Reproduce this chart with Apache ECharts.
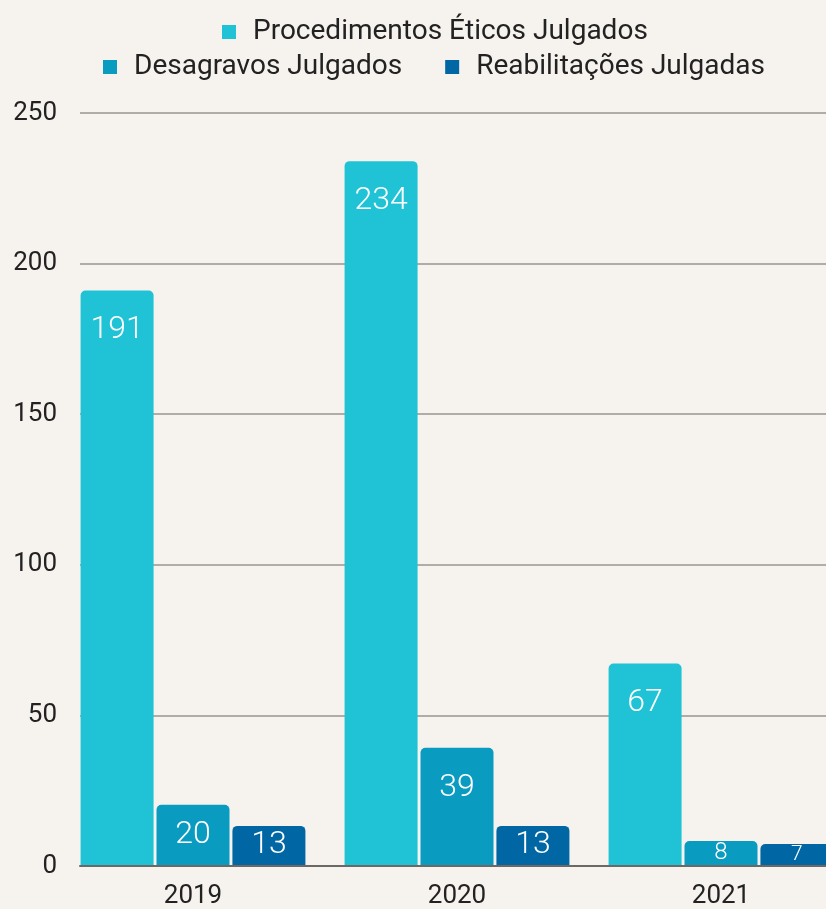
<!DOCTYPE html>
<html>
<head>
<meta charset="utf-8">
<script src="https://cdn.jsdelivr.net/npm/echarts@6/dist/echarts.min.js"></script>
<style>
  html, body { margin: 0; padding: 0; background: #f6f2ed; overflow: hidden; }
  #chart { width: 900px; height: 909px; }
</style>
</head>
<body>
<div id="chart"></div>
<script>
var years = ["2019", "2020", "2021"];
var procedimentos = [191, 234, 67];
var desagravos = [20, 39, 8];
var reabilitacoes = [13, 13, 7];
var seriesNames = ["Procedimentos Éticos Julgados", "Desagravos Julgados", "Reabilitações Julgadas"];
var colors = ["#1fc3d5", "#0a9bc1", "#0067a4"];

// the original chart is cropped on the right, so the canvas is wider than the window
var myChart = echarts.init(document.getElementById("chart"));

// px per unit on the value axis, used only to size the labels of short bars
var pxPerUnit = 753 / 250;

function buildData(values) {
  return values.map(function (v) {
    var h = v * pxPerUnit;
    if (h < 70) {
      return {
        value: v,
        label: { position: "inside", fontSize: Math.min(32, Math.round(h)) }
      };
    }
    return v;
  });
}

function makeSeries(i, values) {
  return {
    name: seriesNames[i],
    type: "bar",
    xAxisIndex: 1,
    yAxisIndex: 1,
    barWidth: 73,
    barGap: "4%",
    itemStyle: { color: colors[i], borderRadius: [5, 5, 0, 0] },
    label: {
      show: true,
      position: "insideTop",
      distance: 24,
      color: "#ffffff",
      fontFamily: "Roboto",
      fontWeight: 300,
      fontSize: 32
    },
    data: buildData(values)
  };
}

var legendText = { fontSize: 28, color: "#222", padding: [0, 0, 0, 12] };

var option = {
  backgroundColor: "#f6f2ed",
  textStyle: { fontFamily: "Roboto" },
  legend: [
    {
      data: [seriesNames[0]],
      top: 13,
      left: 217,
      icon: "rect",
      itemWidth: 14,
      itemHeight: 14,
      textStyle: legendText
    },
    {
      data: [seriesNames[1], seriesNames[2]],
      top: 48,
      left: 98,
      icon: "rect",
      itemWidth: 14,
      itemHeight: 14,
      itemGap: 43,
      textStyle: legendText
    }
  ],
  grid: [
    { left: 80, right: 47, top: 113, bottom: 43 },
    { left: 61, right: 47, top: 113, bottom: 43 }
  ],
  xAxis: [
    {
      gridIndex: 0,
      type: "category",
      data: years,
      axisLine: { show: true, lineStyle: { color: "#6b6865", width: 2 } },
      axisTick: { show: false },
      axisLabel: { show: false }
    },
    {
      gridIndex: 1,
      type: "category",
      data: years,
      axisLine: { show: false },
      axisTick: { show: false },
      axisLabel: { fontSize: 26, color: "#222", margin: 18 }
    }
  ],
  yAxis: [
    {
      gridIndex: 0,
      type: "value",
      min: 0,
      max: 250,
      interval: 50,
      axisLine: { show: false },
      axisTick: { show: false },
      axisLabel: { fontSize: 26, color: "#222", margin: 23 },
      splitLine: { lineStyle: { color: "#b0ada9", width: 2 } }
    },
    {
      gridIndex: 1,
      type: "value",
      min: 0,
      max: 250,
      interval: 50,
      show: false,
      splitLine: { show: false }
    }
  ],
  series: [
    makeSeries(0, procedimentos),
    makeSeries(1, desagravos),
    makeSeries(2, reabilitacoes)
  ]
};

myChart.setOption(option);
</script>
</body>
</html>
